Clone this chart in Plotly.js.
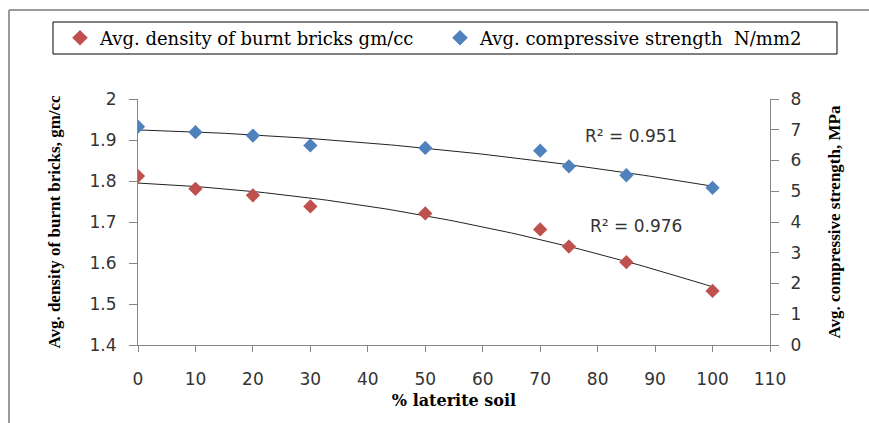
<!DOCTYPE html>
<html>
<head>
<meta charset="utf-8">
<script src="https://cdn.plot.ly/plotly-3.0.1.min.js"></script>
<style>html,body{margin:0;padding:0;background:#fff;}#chart{width:869px;height:423px;}</style>
</head>
<body>
<div id="chart"></div>
<script>
const laterite = [0, 10, 20, 30, 50, 70, 75, 85, 100];
const density = [1.812, 1.781, 1.765, 1.738, 1.721, 1.682, 1.640, 1.602, 1.532];
const strength = [7.10, 6.92, 6.81, 6.49, 6.41, 6.32, 5.81, 5.52, 5.11];
const densityName = "Avg. density of burnt bricks gm/cc";
const strengthName = "Avg. compressive strength  N/mm2";
const r2Density = "R² = 0.976";
const r2Strength = "R² = 0.951";

function quadFit(xs, ys) {
  let s = [0,0,0,0,0], t = [0,0,0];
  for (let i = 0; i < xs.length; i++) {
    const x = xs[i], y = ys[i];
    for (let k = 0; k < 5; k++) s[k] += Math.pow(x, k);
    for (let k = 0; k < 3; k++) t[k] += y * Math.pow(x, k);
  }
  const A = [[s[0],s[1],s[2],t[0]],[s[1],s[2],s[3],t[1]],[s[2],s[3],s[4],t[2]]];
  for (let i = 0; i < 3; i++) {
    for (let j = i+1; j < 3; j++) {
      const f = A[j][i]/A[i][i];
      for (let k = i; k < 4; k++) A[j][k] -= f*A[i][k];
    }
  }
  const c = [0,0,0];
  for (let i = 2; i >= 0; i--) {
    let v = A[i][3];
    for (let k = i+1; k < 3; k++) v -= A[i][k]*c[k];
    c[i] = v/A[i][i];
  }
  return c;
}
function trend(xs, ys) {
  const c = quadFit(xs, ys);
  const lo = Math.min(...xs), hi = Math.max(...xs);
  const tx = [], ty = [];
  for (let i = 0; i <= 100; i++) {
    const x = lo + (hi-lo)*i/100;
    tx.push(x); ty.push(c[0] + c[1]*x + c[2]*x*x);
  }
  return {tx, ty};
}
const td = trend(laterite, density);
const ts = trend(laterite, strength);

const red = "#C0504D", blue = "#4F81BD";
const traces = [
  {x: td.tx, y: td.ty, mode: "lines", line: {color: "#222", width: 1}, showlegend: false, hoverinfo: "skip"},
  {x: ts.tx, y: ts.ty, mode: "lines", line: {color: "#222", width: 1}, showlegend: false, hoverinfo: "skip", yaxis: "y2"},
  {x: laterite, y: density, mode: "markers", name: densityName, legend: "legend",
   marker: {symbol: "diamond", size: 11, color: red}},
  {x: laterite, y: strength, mode: "markers", name: strengthName, yaxis: "y2", legend: "legend2",
   marker: {symbol: "diamond", size: 11, color: blue}}
];

const L = 138, R = 770, T = 99, B = 345;
const px = v => (v - L) / (R - L);
const py = v => (B - v) / (B - T);

const tickFont = {family: "DejaVu Sans", size: 17, color: "#333"};
const legendFont = {family: "DejaVu Serif", size: 18, color: "#000"};
const layout = {
  width: 869, height: 423,
  margin: {l: L, r: 869 - R, t: T, b: 423 - B, pad: 0},
  paper_bgcolor: "#fff", plot_bgcolor: "#fff",
  showlegend: true,
  legend: {
    orientation: "h", x: px(60), xanchor: "left", y: py(38), yanchor: "middle",
    font: legendFont, bgcolor: "rgba(0,0,0,0)", borderwidth: 0, itemsizing: "constant"
  },
  legend2: {
    orientation: "h", x: px(440), xanchor: "left", y: py(38), yanchor: "middle",
    font: legendFont, bgcolor: "rgba(0,0,0,0)", borderwidth: 0, itemsizing: "constant"
  },
  xaxis: {
    range: [0, 110], tickvals: [0,10,20,30,40,50,60,70,80,90,100,110],
    showgrid: false, zeroline: false, showline: true, linecolor: "#868686", linewidth: 1,
    ticks: "outside", ticklen: 6, tickcolor: "#868686", tickfont: tickFont,
    ticklabelstandoff: 13,
    title: {text: "% laterite soil", font: {family: "DejaVu Serif", size: 16, color: "#000", weight: "bold"}, standoff: 6},
    fixedrange: true
  },
  yaxis: {
    range: [1.4, 2], dtick: 0.1, tick0: 1.4,
    showgrid: false, zeroline: false, showline: true, linecolor: "#868686", linewidth: 1,
    ticks: "outside", ticklen: 8, tickcolor: "#868686", tickfont: tickFont,
    ticklabelstandoff: 9,
    title: {text: "Avg. density of burnt bricks, gm/cc", font: {family: "Liberation Serif", size: 17, color: "#000", weight: "bold"}, standoff: 24},
    fixedrange: true
  },
  yaxis2: {
    range: [0, 8], dtick: 1, overlaying: "y", side: "right",
    showgrid: false, zeroline: false, showline: true, linecolor: "#868686", linewidth: 1,
    ticks: "outside", ticklen: 8, tickcolor: "#868686", tickfont: tickFont,
    ticklabelstandoff: 8,
    title: {text: "Avg. compressive strength, MPa", font: {family: "Liberation Serif", size: 17, color: "#000", weight: "bold"}, standoff: 27},
    fixedrange: true
  },
  shapes: [
    {type: "line", xref: "paper", yref: "paper", x0: px(9), x1: px(9), y0: py(10), y1: py(430), line: {color: "#9a9a9a", width: 2}},
    {type: "line", xref: "paper", yref: "paper", x0: px(9), x1: px(880), y0: py(10), y1: py(10), line: {color: "#9a9a9a", width: 2}},
    {type: "rect", xref: "paper", yref: "paper", x0: px(53), x1: px(837), y0: py(22), y1: py(54), line: {color: "#000", width: 1}}
  ],
  annotations: [
    {xref: "paper", yref: "paper", x: px(631), y: py(136), xanchor: "center", yanchor: "middle", text: r2Strength, showarrow: false, font: {family: "DejaVu Sans", size: 17, color: "#333"}},
    {xref: "paper", yref: "paper", x: px(636), y: py(226), xanchor: "center", yanchor: "middle", text: r2Density, showarrow: false, font: {family: "DejaVu Sans", size: 17, color: "#333"}}
  ]
};
Plotly.newPlot("chart", traces, layout, {displayModeBar: false, staticPlot: true});
</script>
</body>
</html>
